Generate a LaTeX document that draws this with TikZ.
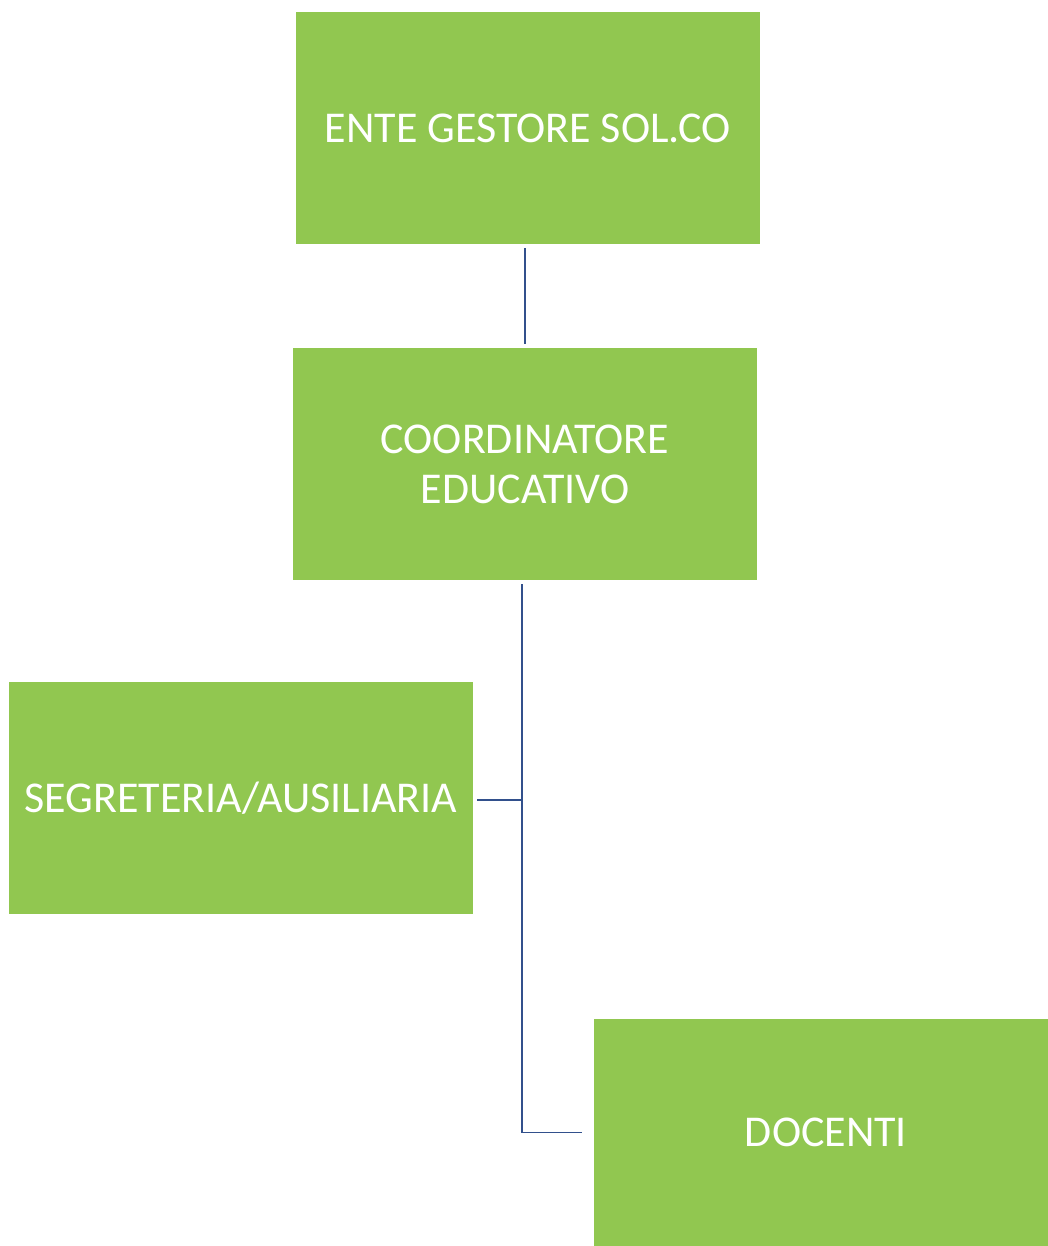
\documentclass[tikz,border=0pt]{standalone}
\usepackage{fontspec}
\setmainfont{Carlito}
\definecolor{boxgreen}{RGB}{145,199,80}
\definecolor{linkblue}{RGB}{50,80,140}
\begin{document}
\begin{tikzpicture}[x=1pt,y=-1pt,
  orgbox/.style={fill=boxgreen, draw=none, text=white, align=center,
    font=\fontsize{44}{50}\selectfont, inner sep=0pt},
  link/.style={draw=linkblue, line width=1.8pt}]
\useasboundingbox (0,0) rectangle (1048,1246);
\fill[white] (0,0) rectangle (1048,1246);
\node[orgbox, minimum width=464pt, minimum height=232pt] (ente) at (528,128) {ENTE GESTORE SOL.CO};
\node[orgbox, minimum width=464pt, minimum height=232pt] (coord) at (525,464) {COORDINATORE\\EDUCATIVO};
\node[orgbox, minimum width=464pt, minimum height=232pt] (seg) at (241,798) {SEGRETERIA/AUSILIARIA};
\node[orgbox, minimum width=454pt, minimum height=227pt, text depth=0pt] (doc) at (821,1132.5) {\hspace{10pt}DOCENTI};
\coordinate (branch) at (522,800);
\draw[link] ([yshift=-4pt]ente.south -| coord.north) -- ([yshift=4pt]coord.north);
\draw[link] ([xshift=-3pt,yshift=-4pt]coord.south) |- ([xshift=-12pt]doc.west);
\draw[link] ([xshift=4pt]seg.east |- branch) -- (branch);
\end{tikzpicture}
\end{document}
